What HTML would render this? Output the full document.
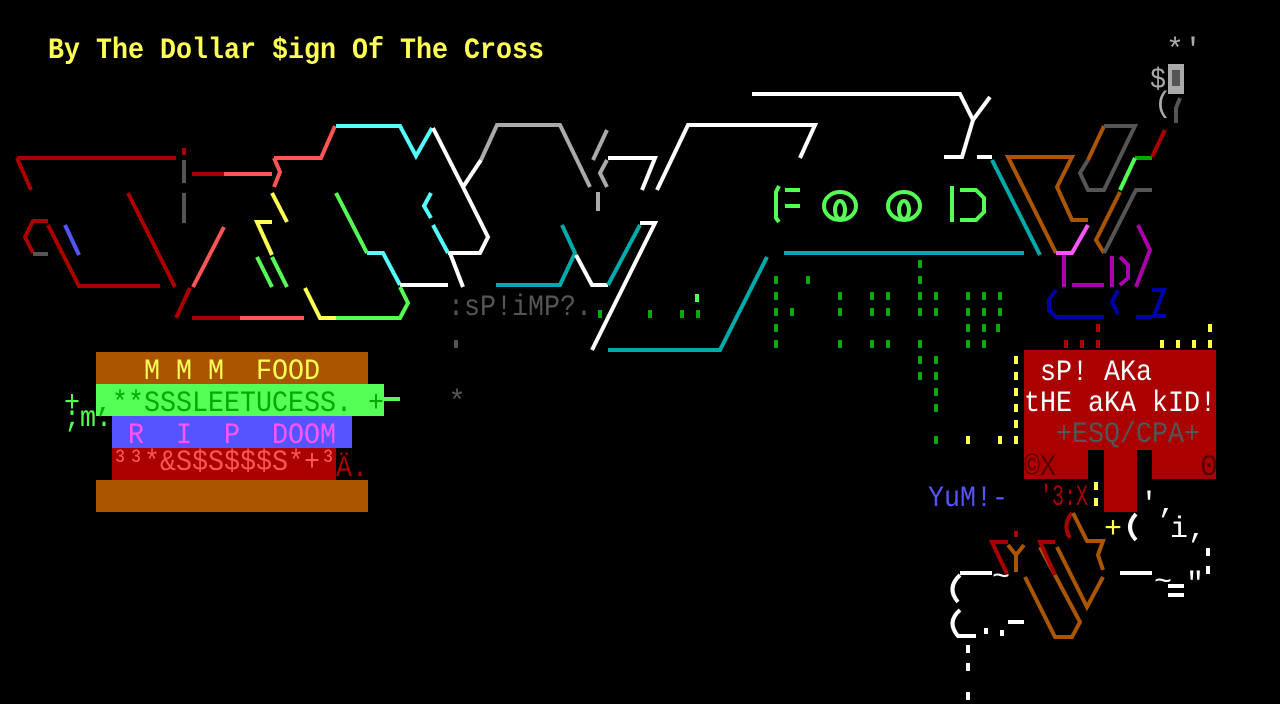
<!DOCTYPE html>
<html><head><meta charset="utf-8"><style>
html,body{margin:0;padding:0;background:#000;width:1280px;height:704px;overflow:hidden}
svg{display:block}
text{font-family:"Liberation Mono",monospace;font-size:30px;white-space:pre}
</style></head><body>
<svg width="1280" height="704" viewBox="0 0 1280 704" xmlns="http://www.w3.org/2000/svg" xml:space="preserve">
<rect width="1280" height="704" fill="#000"/>
<g fill="none" stroke-width="4" stroke-linejoin="miter">
<polyline points="17,158 176,158" stroke="#aa0000"/>
<polyline points="17,158 31,190" stroke="#aa0000"/>
<polyline points="128,193 175,287" stroke="#aa0000"/>
<polyline points="48,225 79,286 160,286" stroke="#aa0000"/>
<polyline points="48,221 33,221 25,237 33,253" stroke="#aa0000"/>
<line x1="33" y1="254" x2="48" y2="254" stroke="#555"/>
<line x1="65" y1="225" x2="79" y2="255" stroke="#5555ff"/>
<line x1="184" y1="160" x2="184" y2="183" stroke="#555"/>
<line x1="184" y1="193" x2="184" y2="223" stroke="#555"/>
<line x1="184" y1="148" x2="184" y2="155" stroke="#aa0000"/>
<line x1="192" y1="174" x2="224" y2="174" stroke="#aa0000"/>
<line x1="224" y1="174" x2="272" y2="174" stroke="#ff5555"/>
<polyline points="274,158 280,172 274,187" stroke="#ff5555"/>
<polyline points="274,158 321,158 335,126" stroke="#ff5555"/>
<polyline points="336,126 400,126 416,156 432,128" stroke="#55ffff"/>
<polyline points="433,128 463,187 488,237 480,253 448,253" stroke="#fff"/>
<line x1="450" y1="253" x2="463" y2="287" stroke="#fff"/>
<line x1="463" y1="187" x2="481" y2="160" stroke="#fff"/>
<polyline points="481,160 497,125 560,125 590,187" stroke="#aaa"/>
<line x1="607" y1="130" x2="593" y2="160" stroke="#aaa"/>
<polyline points="607,160 600,173 607,187" stroke="#aaa"/>
<line x1="598" y1="192" x2="598" y2="211" stroke="#aaa"/>
<polyline points="642,190 655,158 608,158" stroke="#fff"/>
<polyline points="657,190 688,125 815,125 800,158" stroke="#fff"/>
<polyline points="752,94 960,94 973,120 990,97" stroke="#fff"/>
<polyline points="973,120 962,157 944,157" stroke="#fff"/>
<line x1="977" y1="157" x2="992" y2="157" stroke="#fff"/>
<line x1="992" y1="160" x2="1040" y2="255" stroke="#00aaaa"/>
<polyline points="431,193 424,206 431,218" stroke="#55ffff"/>
<line x1="433" y1="225" x2="448" y2="253" stroke="#55ffff"/>
<polyline points="367,253 383,253 400,285" stroke="#55ffff"/>
<line x1="336" y1="193" x2="367" y2="253" stroke="#55ff55"/>
<line x1="400" y1="285" x2="448" y2="285" stroke="#fff"/>
<polyline points="272,222 257,222 272,255" stroke="#ffff55"/>
<line x1="272" y1="257" x2="287" y2="287" stroke="#55ff55"/>
<line x1="257" y1="257" x2="272" y2="287" stroke="#55ff55"/>
<line x1="272" y1="193" x2="287" y2="222" stroke="#ffff55"/>
<polyline points="305,288 320,318 336,318" stroke="#ffff55"/>
<polyline points="336,318 400,318 408,303 400,287" stroke="#55ff55"/>
<line x1="224" y1="227" x2="193" y2="287" stroke="#ff5555"/>
<line x1="190" y1="288" x2="176" y2="318" stroke="#aa0000"/>
<line x1="192" y1="318" x2="240" y2="318" stroke="#aa0000"/>
<line x1="240" y1="318" x2="304" y2="318" stroke="#ff5555"/>
<polyline points="562,225 575,253 560,285 496,285" stroke="#00aaaa"/>
<polyline points="576,255 592,285 608,285" stroke="#fff"/>
<line x1="608" y1="285" x2="640" y2="225" stroke="#00aaaa"/>
<polyline points="640,223 655,223 592,350" stroke="#fff"/>
<polyline points="608,350 720,350 767,257" stroke="#00aaaa"/>
<line x1="784" y1="253" x2="1024" y2="253" stroke="#00aaaa"/>
<polyline points="779,186 776,192 776,218 779,222" stroke="#55ff55"/>
<line x1="785" y1="190" x2="800" y2="190" stroke="#55ff55"/>
<line x1="785" y1="206" x2="800" y2="206" stroke="#55ff55"/>
<ellipse cx="840" cy="206" rx="16" ry="14" stroke="#55ff55"/>
<ellipse cx="840" cy="210" rx="5" ry="9" stroke="#55ff55"/>
<ellipse cx="904" cy="206" rx="16" ry="14" stroke="#55ff55"/>
<ellipse cx="904" cy="210" rx="5" ry="9" stroke="#55ff55"/>
<line x1="952" y1="186" x2="952" y2="222" stroke="#55ff55"/>
<polyline points="960,190 976,190 984,198 984,212 976,220 960,220" stroke="#55ff55"/>
<polyline points="1056,253 1008,157 1072,157 1057,187 1072,220 1088,220" stroke="#aa5500"/>
<polyline points="1088,225 1072,253 1056,253" stroke="#ff55ff"/>
<polyline points="1104,126 1088,160" stroke="#aa5500"/>
<polyline points="1104,126 1135,126 1104,190 1088,190 1080,173 1088,160" stroke="#555"/>
<line x1="1135" y1="158" x2="1152" y2="158" stroke="#00aa00"/>
<line x1="1135" y1="158" x2="1120" y2="190" stroke="#55ff55"/>
<line x1="1152" y1="157" x2="1165" y2="130" stroke="#aa0000"/>
<polyline points="1120,192 1096,240 1104,253" stroke="#aa5500"/>
<polyline points="1152,190 1136,190 1104,253" stroke="#555"/>
<line x1="1064" y1="255" x2="1064" y2="287" stroke="#aa00aa"/>
<line x1="1072" y1="285" x2="1104" y2="285" stroke="#aa00aa"/>
<line x1="1112" y1="256" x2="1112" y2="287" stroke="#aa00aa"/>
<polyline points="1120,257 1128,265 1128,278 1120,285" stroke="#aa00aa"/>
<polyline points="1138,225 1150,250 1136,287" stroke="#aa00aa"/>
<polyline points="1056,290 1049,300 1049,310 1056,317 1104,317" stroke="#0000aa"/>
<polyline points="1118,290 1112,302 1118,314" stroke="#0000aa"/>
<polyline points="1152,290 1164,290 1154,316 1166,316" stroke="#0000aa"/>
<line x1="1136" y1="317" x2="1152" y2="317" stroke="#0000aa"/>
<path d="M1072,513 Q1062,525 1070,538" stroke="#aa0000"/>
<polyline points="1073,513 1087,541 1103,541 1098,555 1103,570" stroke="#aa5500"/>
<polyline points="1057,547 1087,607 1103,577" stroke="#aa5500"/>
<polyline points="1040,547 1080,622 1072,637 1055,637 1025,577" stroke="#aa5500"/>
<polyline points="1008,542 992,542 1007,574" stroke="#aa0000"/>
<polyline points="1055,542 1040,542 1055,575" stroke="#aa0000"/>
<polyline points="1008,545 1016,555 1024,545" stroke="#aa5500"/>
<line x1="1016" y1="555" x2="1016" y2="572" stroke="#aa5500"/>
<line x1="1016" y1="531" x2="1016" y2="537" stroke="#aa0000"/>
<line x1="960" y1="573" x2="992" y2="573" stroke="#fff"/>
<path d="M960,575 Q946,588 958,602" stroke="#fff"/>
<path d="M960,610 Q946,622 958,636 L976,636" stroke="#fff"/>
<line x1="1008" y1="622" x2="1024" y2="622" stroke="#fff"/>
<line x1="1120" y1="573" x2="1152" y2="573" stroke="#fff"/>
<line x1="1168" y1="586" x2="1184" y2="586" stroke="#fff"/>
<line x1="1168" y1="595" x2="1184" y2="595" stroke="#fff"/>
<path d="M1136,514 Q1124,527 1136,540" stroke="#fff"/>
</g>
<g fill="#00aa00">
<rect x="774" y="276" width="4" height="8"/><rect x="774" y="292" width="4" height="8"/><rect x="774" y="308" width="4" height="8"/><rect x="774" y="324" width="4" height="8"/><rect x="774" y="340" width="4" height="8"/>
<rect x="790" y="308" width="4" height="8"/><rect x="806" y="276" width="4" height="8"/>
<rect x="838" y="292" width="4" height="8"/><rect x="838" y="308" width="4" height="8"/><rect x="838" y="340" width="4" height="8"/>
<rect x="870" y="292" width="4" height="8"/><rect x="870" y="308" width="4" height="8"/><rect x="870" y="340" width="4" height="8"/>
<rect x="886" y="292" width="4" height="8"/><rect x="886" y="308" width="4" height="8"/><rect x="886" y="340" width="4" height="8"/>
<rect x="918" y="260" width="4" height="8"/><rect x="918" y="276" width="4" height="8"/><rect x="918" y="292" width="4" height="8"/><rect x="918" y="308" width="4" height="8"/><rect x="918" y="340" width="4" height="8"/><rect x="918" y="356" width="4" height="8"/><rect x="918" y="372" width="4" height="8"/>
<rect x="934" y="292" width="4" height="8"/><rect x="934" y="308" width="4" height="8"/><rect x="934" y="356" width="4" height="8"/><rect x="934" y="372" width="4" height="8"/><rect x="934" y="388" width="4" height="8"/><rect x="934" y="404" width="4" height="8"/><rect x="934" y="436" width="4" height="8"/>
<rect x="966" y="292" width="4" height="8"/><rect x="966" y="308" width="4" height="8"/><rect x="966" y="324" width="4" height="8"/><rect x="966" y="340" width="4" height="8"/>
<rect x="982" y="292" width="4" height="8"/><rect x="982" y="308" width="4" height="8"/><rect x="982" y="324" width="4" height="8"/><rect x="982" y="340" width="4" height="8"/>
<rect x="998" y="292" width="4" height="8"/><rect x="998" y="308" width="4" height="8"/><rect x="996" y="324" width="4" height="8"/>
<rect x="648" y="310" width="4" height="8"/><rect x="696" y="310" width="4" height="8"/><rect x="680" y="310" width="4" height="8"/><rect x="598" y="310" width="4" height="8"/>
</g>
<g fill="#55ff55"><rect x="695" y="294" width="4" height="8"/></g>
<g fill="#ffff55">
<rect x="1014" y="356" width="4" height="8"/><rect x="1014" y="372" width="4" height="8"/><rect x="1014" y="388" width="4" height="8"/><rect x="1014" y="404" width="4" height="8"/><rect x="1014" y="420" width="4" height="8"/><rect x="1014" y="436" width="4" height="8"/>
<rect x="966" y="436" width="4" height="8"/><rect x="998" y="436" width="4" height="8"/>
<rect x="1160" y="340" width="4" height="8"/><rect x="1176" y="340" width="4" height="8"/><rect x="1192" y="340" width="4" height="8"/><rect x="1208" y="340" width="4" height="8"/><rect x="1208" y="324" width="4" height="8"/>
<rect x="1094" y="482" width="4" height="8"/><rect x="1094" y="498" width="4" height="8"/>
</g>
<g fill="#aa0000">
<rect x="1064" y="340" width="4" height="8"/><rect x="1080" y="340" width="4" height="8"/><rect x="1096" y="340" width="4" height="8"/><rect x="1096" y="324" width="4" height="8"/>
</g>
<g fill="#fff">
<rect x="966" y="645" width="4" height="8"/><rect x="966" y="663" width="4" height="8"/><rect x="966" y="692" width="4" height="8"/>
<rect x="1206" y="548" width="4" height="8"/><rect x="1206" y="566" width="4" height="8"/>
<rect x="984" y="628" width="4" height="6"/><rect x="1000" y="630" width="4" height="6"/>
<rect x="358" y="486" width="4" height="8"/><rect x="358" y="500" width="4" height="8"/>
</g>
<text x="48" y="58" fill="#ffff55" font-weight="bold" font-size="30" textLength="496" lengthAdjust="spacingAndGlyphs">By The Dollar $ign Of The Cross</text>
<rect x="96" y="352" width="272" height="32" fill="#aa5500"/>
<rect x="96" y="384" width="288" height="32" fill="#55ff55"/>
<rect x="112" y="416" width="240" height="32" fill="#5555ff"/>
<rect x="112" y="448" width="224" height="32" fill="#aa0000"/>
<rect x="96" y="480" width="272" height="32" fill="#aa5500"/>
<text x="144" y="379" fill="#ffff55" font-size="32" textLength="176" lengthAdjust="spacingAndGlyphs">M M M  FOOD</text>
<text x="96" y="411" fill="#00aa00" font-size="32" textLength="256" lengthAdjust="spacingAndGlyphs">,**SSSLEETUCESS.</text>
<text x="368" y="411" fill="#00aa00" font-size="32" textLength="16" lengthAdjust="spacingAndGlyphs">+</text>
<text x="64" y="411" fill="#55ff55" font-size="32" textLength="16" lengthAdjust="spacingAndGlyphs">+</text>
<rect x="384" y="397" width="16" height="4" fill="#55ff55"/>
<text x="64" y="426" fill="#55ff55" font-size="20" textLength="48" lengthAdjust="spacingAndGlyphs">;m.</text>
<text x="128" y="443" fill="#ff55ff" font-size="32" textLength="16" lengthAdjust="spacingAndGlyphs">R</text>
<text x="176" y="443" fill="#ff55ff" font-size="32" textLength="16" lengthAdjust="spacingAndGlyphs">I</text>
<text x="224" y="443" fill="#ff55ff" font-size="32" textLength="16" lengthAdjust="spacingAndGlyphs">P</text>
<text x="272" y="443" fill="#ff55ff" font-size="32" textLength="64" lengthAdjust="spacingAndGlyphs">DOOM</text>
<text x="112" y="470" fill="#ff5555" font-size="26" textLength="224" lengthAdjust="spacingAndGlyphs">³³*&amp;S$S$$$S*+³</text>
<text x="336" y="476" fill="#aa0000" font-size="28" textLength="32" lengthAdjust="spacingAndGlyphs">Ä.</text>
<text x="448" y="410" fill="#555" font-size="28">*</text>
<text x="448" y="315" fill="#555" font-size="30" textLength="144" lengthAdjust="spacingAndGlyphs">:sP!iMP?.</text>
<rect x="454" y="340" width="4" height="8" fill="#555"/>
<text x="1166" y="58" fill="#aaa" font-size="28">*'</text>
<text x="1150" y="88" fill="#aaa" font-size="28" textLength="16" lengthAdjust="spacingAndGlyphs">$</text>
<rect x="1168" y="64" width="16" height="30" fill="#aaa"/>
<rect x="1172" y="70" width="8" height="16" fill="#555"/>
<text x="1154" y="112" fill="#aaa" font-size="24">(</text>
<polyline points="1180,98 1176,108 1176,123" fill="none" stroke="#555" stroke-width="4"/>
<rect x="1024" y="350" width="192" height="100" fill="#aa0000"/>
<rect x="1024" y="448" width="64" height="31" fill="#aa0000"/>
<rect x="1104" y="448" width="33" height="64" fill="#aa0000"/>
<rect x="1152" y="448" width="64" height="31" fill="#aa0000"/>
<text x="1040" y="380" fill="#fff" font-size="30" textLength="112" lengthAdjust="spacingAndGlyphs">sP! AKa</text>
<text x="1024" y="411" fill="#fff" font-size="32" textLength="192" lengthAdjust="spacingAndGlyphs">tHE aKA kID!</text>
<text x="1056" y="442" fill="#555" font-size="30" textLength="144" lengthAdjust="spacingAndGlyphs">+ESQ/CPA+</text>
<text x="1024" y="475" fill="#550000" font-size="28" textLength="32" lengthAdjust="spacingAndGlyphs">©X</text>
<text x="1200" y="475" fill="#550000" font-size="28">0</text>
<text x="1040" y="505" fill="#aa0000" font-size="24" textLength="48" lengthAdjust="spacingAndGlyphs">'3:X</text>
<text x="928" y="506" fill="#5555ff" font-size="30" textLength="80" lengthAdjust="spacingAndGlyphs">YuM!-</text>
<text x="1104" y="537" fill="#ffff55" font-size="26">+</text>
<text x="1140" y="512" fill="#fff" font-size="22">',</text>
<text x="1170" y="537" fill="#fff" font-size="28">i,</text>
<text x="992" y="585" fill="#fff" font-size="20">~</text>
<text x="1154" y="590" fill="#fff" font-size="20">~</text>
<text x="1186" y="592" fill="#fff" font-size="22">"</text>
</svg>
</body></html>
